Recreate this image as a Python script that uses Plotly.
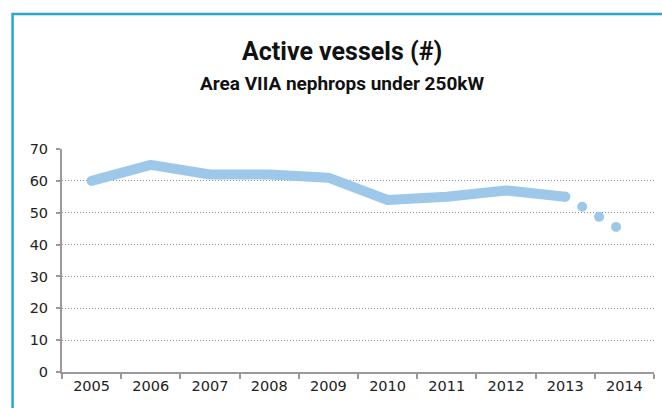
import plotly.graph_objects as go

years = [2005, 2006, 2007, 2008, 2009, 2010, 2011, 2012, 2013]
vessels = [60, 65, 62, 62, 61, 54, 55, 57, 55]
proj_years = [2013, 2014]
proj_vessels = [55, 44]
y_ticks = [0, 10, 20, 30, 40, 50, 60, 70]
x_ticks = list(range(2005, 2015))
x_bounds = [y - 0.5 for y in range(2005, 2016)]

line_color = "#9DC8E9"
axis_color = "#9a9a9a"
tick_font = dict(family="DejaVu Sans", size=14.5, color="#222222")

fig = go.Figure()
fig.add_trace(go.Scatter(x=years, y=vessels, mode="lines",
                         line=dict(color=line_color, width=10),
                         hoverinfo="skip", showlegend=False))
fig.add_trace(go.Scatter(x=proj_years, y=proj_vessels, mode="lines",
                         line=dict(color=line_color, width=10, dash="0px,19.7px"),
                         hoverinfo="skip", showlegend=False))

fig.update_layout(
    width=662, height=408,
    margin=dict(l=62, r=8, t=149, b=36),
    paper_bgcolor="white", plot_bgcolor="white",
    showlegend=False,
    xaxis=dict(range=[2004.5, 2014.5], tickvals=x_ticks, ticktext=[str(v) for v in x_ticks],
               ticks="", showgrid=False, zeroline=False,
               showline=True, linecolor=axis_color, linewidth=2,
               tickfont=tick_font, ticklabelstandoff=0,
               minor=dict(tickvals=x_bounds, ticks="outside", ticklen=5,
                          tickcolor=axis_color, tickwidth=1.5, showgrid=False)),
    yaxis=dict(range=[0, 70], tickvals=y_ticks, ticks="outside", ticklen=4,
               tickcolor=axis_color, tickwidth=1.5,
               showline=True, linecolor=axis_color, linewidth=2,
               showgrid=True, gridcolor="#8a8a8a", gridwidth=1, griddash="1px,2px",
               zeroline=False, tickfont=tick_font, ticklabelstandoff=5),
    annotations=[
        dict(text="<b>Active vessels (#)</b>", xref="paper", yref="paper",
             x=0.473, y=1.435, xanchor="center", yanchor="middle", showarrow=False,
             font=dict(family="Roboto", size=25, color="#111111")),
        dict(text="<b>Area VIIA nephrops under 250kW</b>", xref="paper", yref="paper",
             x=0.473, y=1.295, xanchor="center", yanchor="middle", showarrow=False,
             font=dict(family="Roboto", size=19, color="#111111")),
    ],
    shapes=[dict(type="rect", xref="paper", yref="paper",
                 x0=-0.0835, y0=-0.3, x1=1.1, y1=1.605,
                 line=dict(color="#2BA6D1", width=2.5), layer="below")],
)

post = ("document.body.style.margin='0';"
        "document.querySelectorAll('.js-line').forEach(function(p){"
        "p.style.strokeLinecap='round';p.style.strokeLinejoin='round';});")
fig.write_html("out.html", post_script=post, config={"displayModeBar": False})
